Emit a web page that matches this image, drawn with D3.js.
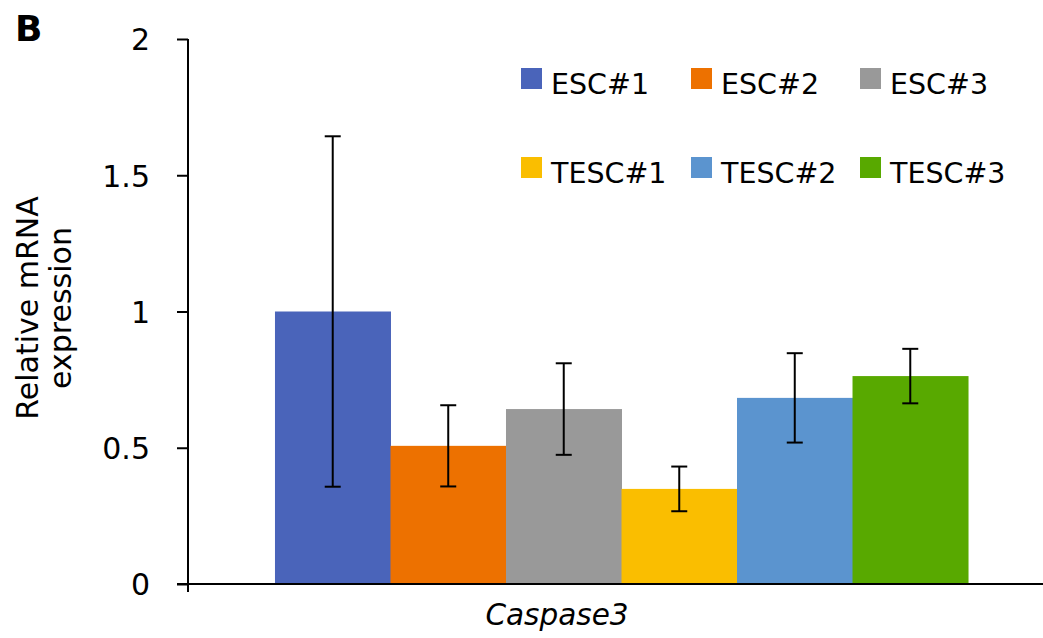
<!DOCTYPE html>
<html>
<head>
<meta charset="utf-8">
<script src="https://cdn.jsdelivr.net/npm/d3@7"></script>
<style>
  body { margin: 0; background: #fff; }
  svg { display: block; font-family: Verdana, "DejaVu Sans", sans-serif; }
</style>
</head>
<body>
<svg id="chart" width="1043" height="638"></svg>
<script>
// Data
const genes = ['Caspase3'];
const series = ['ESC#1', 'ESC#2', 'ESC#3', 'TESC#1', 'TESC#2', 'TESC#3'];
const means = [1.0, 0.507, 0.642, 0.349, 0.683, 0.763];
const errors = [0.643, 0.149, 0.168, 0.082, 0.164, 0.100];
const colors = ['#4a64ba', '#ed7100', '#999999', '#fabe00', '#5b94cf', '#58a900'];
const yTicks = [0, 0.5, 1, 1.5, 2];

const svg = d3.select('#chart');
const margin = { left: 188, top: 39, bottom: 584 };

const y = d3.scaleLinear().domain([0, 2]).range([margin.bottom, margin.top]);

const x0 = d3.scaleBand()
  .domain(genes)
  .range([margin.left, 1055])
  .paddingOuter(0.1255)
  .paddingInner(0);

const x1 = d3.scaleBand()
  .domain(series)
  .range([0, x0.bandwidth()]);

const color = d3.scaleOrdinal(series, colors);

// bars
const rows = series.map((s, i) => ({ gene: genes[0], key: s, value: means[i], err: errors[i] }));

const g = svg.append('g');
g.selectAll('rect.bar')
  .data(rows)
  .enter()
  .append('rect')
  .attr('class', 'bar')
  .attr('x', d => x0(d.gene) + x1(d.key))
  .attr('y', d => y(d.value))
  .attr('width', x1.bandwidth() + 0.5)
  .attr('height', d => y(0) - y(d.value))
  .attr('fill', d => color(d.key));

// error bars
const capW = 8;
const eb = g.selectAll('g.err')
  .data(rows)
  .enter()
  .append('g')
  .attr('class', 'err')
  .attr('stroke', '#000')
  .attr('stroke-width', 2);

const cx = d => x0(d.gene) + x1(d.key) + x1.bandwidth() / 2;
eb.append('line')
  .attr('x1', cx).attr('x2', cx)
  .attr('y1', d => y(d.value + d.err))
  .attr('y2', d => y(d.value - d.err));
eb.append('line')
  .attr('x1', d => cx(d) - capW).attr('x2', d => cx(d) + capW)
  .attr('y1', d => y(d.value + d.err)).attr('y2', d => y(d.value + d.err));
eb.append('line')
  .attr('x1', d => cx(d) - capW).attr('x2', d => cx(d) + capW)
  .attr('y1', d => y(d.value - d.err)).attr('y2', d => y(d.value - d.err));

// y axis
const yAxis = svg.append('g')
  .attr('transform', `translate(${margin.left},0)`)
  .call(d3.axisLeft(y).tickValues(yTicks).tickSize(11).tickPadding(27).tickFormat(d3.format('')));
yAxis.select('.domain').attr('stroke-width', 2).attr('d', `M0,${margin.top}V${margin.bottom + 8}`);
yAxis.selectAll('.tick line').attr('stroke-width', 2);
yAxis.selectAll('.tick text')
  .attr('font-size', 30)
  .attr('font-family', 'Verdana, "DejaVu Sans", sans-serif')
  .attr('fill', '#000')
  .attr('dy', '0.36em');

// x axis baseline
svg.append('line')
  .attr('x1', margin.left - 11).attr('x2', 1043)
  .attr('y1', y(0)).attr('y2', y(0))
  .attr('stroke', '#000').attr('stroke-width', 2);

// category label
svg.append('text')
  .attr('x', 557).attr('y', 625)
  .attr('text-anchor', 'middle')
  .attr('font-size', 29.5)
  .attr('font-style', 'italic')
  .text(genes[0]);

// y title
const yTitle = svg.append('text')
  .attr('transform', 'translate(0,308) rotate(-90)')
  .attr('text-anchor', 'middle')
  .attr('font-size', 30);
yTitle.append('tspan').attr('x', 0).attr('y', 38).text('Relative mRNA');
yTitle.append('tspan').attr('x', 0).attr('y', 71).text('expression');

// panel letter
svg.append('text')
  .attr('x', 15).attr('y', 41)
  .attr('font-size', 36)
  .attr('font-weight', 'bold')
  .text('B');

// legend: 3 columns x 2 rows
const legCols = [521, 691, 860];
const legRows = [68, 157];
const leg = svg.selectAll('g.leg')
  .data(series)
  .enter()
  .append('g')
  .attr('class', 'leg')
  .attr('transform', (d, i) => `translate(${legCols[i % 3]},${legRows[Math.floor(i / 3)]})`);
leg.append('rect')
  .attr('width', 21).attr('height', 21)
  .attr('fill', d => color(d));
leg.append('text')
  .attr('x', 30).attr('y', 26)
  .attr('font-size', 28.5)
  .text(d => d);
</script>
</body>
</html>
